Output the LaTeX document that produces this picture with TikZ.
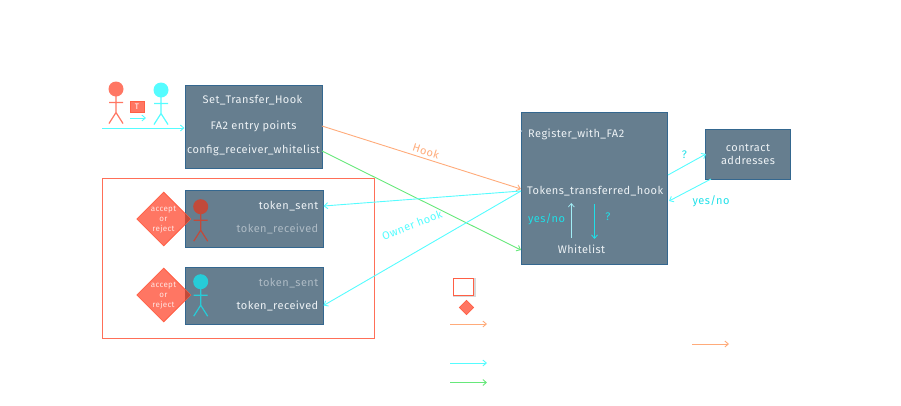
\documentclass[tikz,border=0pt]{standalone}
\usepackage{fontspec}
\setmainfont[LetterSpace=4]{Fira Sans}
\usetikzlibrary{shapes.geometric,arrows.meta,shadows}
\definecolor{boxfill}{HTML}{667E8F}
\definecolor{boxline}{HTML}{34678F}
\definecolor{boxglow}{HTML}{D5E3EE}
\definecolor{redline}{HTML}{FF5F45}
\definecolor{redfill}{HTML}{FF7663}
\definecolor{reddark}{HTML}{C24A3A}
\definecolor{cyanline}{HTML}{55FCFF}
\definecolor{cyandark}{HTML}{26CCD8}
\definecolor{cyantext}{HTML}{1FE0E8}
\definecolor{orangeline}{HTML}{FFAB7A}
\definecolor{greenline}{HTML}{66E87A}
\definecolor{boxtext}{HTML}{EDF2F5}
\definecolor{dimtext}{HTML}{AEBBC5}
\tikzset{
  x=1pt,y=-1pt,
  bluebox/.style={draw=boxline,fill=boxfill,line width=1pt,inner sep=0pt,
    general shadow={xshift=1.4pt,yshift=-1.4pt,fill=boxglow}},
  lbl/.style={text=boxtext,font=\fontsize{11}{12}\selectfont,inner sep=0pt},
  dimlbl/.style={lbl,text=dimtext},
  decide/.style={diamond,aspect=1,draw=redline,fill=redfill,line width=.8pt,minimum size=54pt,inner sep=0pt},
  decidetext/.style={text=white,opacity=.8,font=\fontsize{8}{10.2}\selectfont,align=center,inner sep=0pt},
  cyanarrow/.style={draw=cyanline,line width=.9pt,-{Straight Barb[length=3.5pt,width=6pt]}},
  orangearrow/.style={cyanarrow,draw=orangeline},
  greenarrow/.style={cyanarrow,draw=greenline},
  note/.style={text=cyantext,font=\fontsize{11}{12}\selectfont,inner sep=0pt},
}
\newcommand{\stickman}[3]{% x, head y, colour
  \fill[#3] (#1,#2) circle (7.5);
  \draw[#3,line width=1.2pt] (#1,#2+7) -- (#1,#2+23.5) (#1-7,#2+13.5) -- (#1+7,#2+13.5)
    (#1-7,#2+34.5) -- (#1,#2+23.5) -- (#1+7,#2+34.5);
}
\begin{document}
\begin{tikzpicture}
\useasboundingbox (0,0) rectangle (901,405);
% group frame
\node[draw=redline!90,line width=1pt,minimum width=272.5pt,minimum height=160pt,inner sep=0pt] (group) at (238.5,258) {};
\draw[white,opacity=.35,line width=1pt] (group.north east) -- (group.south east);
% sender / receiver
\stickman{116}{89}{redfill}
\stickman{161}{90}{cyanline}
\node[draw=redline,fill=redfill,minimum width=14pt,minimum height=11pt,inner sep=0pt,text=white,font=\fontsize{8}{8}\selectfont] (token) at (137,106.5) {T};
\coordinate (sa) at (130,118);
\coordinate (sb) at (146,118);
\draw[cyanarrow] (sa) -- (sb);
% boxes
\node[bluebox,minimum width=137pt,minimum height=83pt] (fa) at (253.5,126.5) {};
\node[bluebox,minimum width=138pt,minimum height=56.5pt] (sender) at (254,218.8) {};
\node[bluebox,minimum width=138pt,minimum height=56.5pt] (receiver) at (254,296) {};
\node[bluebox,minimum width=146.5pt,minimum height=151.5pt] (hook) at (594.5,188.3) {};
\node[bluebox,minimum width=85pt,minimum height=50pt] (addr) at (748,154) {};
% FA2 texts
\node[lbl] (sth) at (252.5,100.5) {Set\_Transfer\_Hook};
\node[lbl] (ep) at (253.5,126) {FA2 entry points};
\node[lbl] (crw) at (253.5,150.5) {config\_receiver\_whitelist};
% decision diamonds
\node[decide] (d1) at (163.7,219) {};
\node[decide] (d2) at (163.7,295) {};
\fill[reddark] (185,213.3) -- (190.7,219) -- (185,224.7) -- cycle;
\fill[reddark] (185,289.3) -- (190.7,295) -- (185,300.7) -- cycle;
\node[decidetext] (d1t) at (163.5,219.5) {accept\\or\\reject};
\node[decidetext] (d2t) at (163.5,295.5) {accept\\or\\reject};
% actors in boxes
\stickman{200.7}{206.7}{reddark}
\stickman{200.7}{281.7}{cyandark}
\node[lbl,anchor=east] (s1) at (318.5,206) {token\_sent};
\node[dimlbl,anchor=east] (r1) at (318.5,228.5) {token\_received};
\node[dimlbl,anchor=east] (s2) at (318.5,283) {token\_sent};
\node[lbl,anchor=east] (r2) at (318.5,305.5) {token\_received};
% hook box texts
\node[lbl,anchor=west] (reg) at (528,134.5) {Register\_with\_FA2};
\node[lbl,anchor=west] (tth) at (527,191.5) {Tokens\_transferred\_hook};
\node[lbl] (wl) at (581.5,249.5) {Whitelist};
\node[lbl,align=center,font=\fontsize{11}{13.5}\selectfont] (ca) at (748,154.5) {contract\\addresses};
% main connectors
\coordinate (faO) at (322,126);
\coordinate (faG) at (322,151);
\coordinate (hkT) at (521,189);
\coordinate (hkC) at (521,191);
\coordinate (hkW) at (521,250);
\coordinate (inS) at (102,128);
\coordinate (regtip) at (522,130.6);
\coordinate (regtail) at (520.5,131.8);
\draw[cyanarrow] (inS) -- (fa.west |- inS);
\draw[orangearrow] (faO) -- (hkT);
\draw[greenarrow] (faG) -- (hkW);
\draw[cyanarrow] (hkC) -- (sender.east |- s1);
\draw[cyanarrow] (hkC) -- (receiver.east |- r2);
\draw[boxglow,line width=.7pt] (regtail) -- (regtip);
\node[font=\fontsize{11}{12}\selectfont,text=orangeline,rotate=-18,inner sep=0pt] (hooklbl) at (426,151) {Hook};
\node[note,text=cyanline,rotate=21,inner sep=0pt] (ownerlbl) at (412,225) {Owner hook};
% whitelist exchange
\coordinate (u1) at (571.3,238);
\coordinate (u2) at (571.3,203);
\coordinate (v1) at (594.5,204);
\coordinate (v2) at (594.5,239);
\draw[draw=boxglow!60!cyanline,line width=.7pt,-{Straight Barb[length=3.5pt,width=6pt]}] (u1) -- (u2);
\draw[draw=cyantext,line width=.8pt,-{Straight Barb[length=3.5pt,width=6pt]}] (v1) -- (v2);
\node[note] (yn1) at (546.5,219.5) {yes/no};
\node[note] (q1) at (608,216.5) {?};
% address exchange
\coordinate (a1) at (668,175);
\coordinate (a2) at (706,154);
\coordinate (b1) at (711,179);
\coordinate (b2) at (669,201);
\draw[cyanarrow] (a1) -- (a2);
\draw[cyanarrow] (b1) -- (b2);
\node[note] (q2) at (684.5,155) {?};
\node[note] (yn2) at (711,201) {yes/no};
% legend
\coordinate (lgs1) at (453,277.5);
\coordinate (lgs2) at (476,297);
\fill[black!15] (lgs1) rectangle (lgs2);
\node[draw=redline,fill=white,line width=1pt,minimum width=20.5pt,minimum height=17pt,inner sep=0pt] (lgbox) at (463.7,287) {};
\node[decide,minimum size=14.5pt] (lgd) at (466.5,307.5) {};
\coordinate (l1a) at (450,324); \coordinate (l1b) at (487,324);
\coordinate (l2a) at (450,363); \coordinate (l2b) at (487,363);
\coordinate (l3a) at (450,382.5); \coordinate (l3b) at (487,382.5);
\coordinate (l4a) at (692,344); \coordinate (l4b) at (729,344);
\draw[orangearrow] (l1a) -- (l1b);
\draw[cyanarrow] (l2a) -- (l2b);
\draw[greenarrow] (l3a) -- (l3b);
\draw[orangearrow] (l4a) -- (l4b);
\end{tikzpicture}
\end{document}
